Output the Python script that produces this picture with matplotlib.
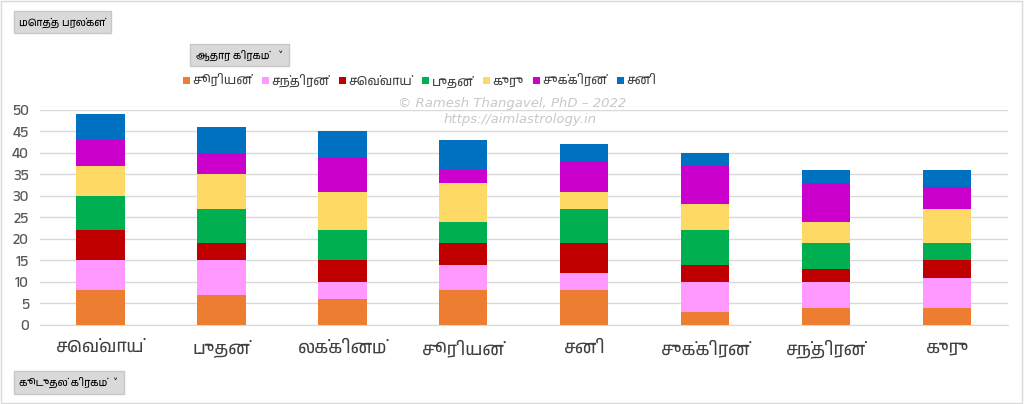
import matplotlib
matplotlib.use('Agg')
import matplotlib.pyplot as plt
from matplotlib.font_manager import fontManager
from matplotlib.ft2font import FT2Font
from matplotlib.patches import Rectangle
import numpy as np

# தமிழ் எழுத்துருக்களைத் தேடுதல்
found = []
for f in fontManager.ttflist:
    try:
        if 0x0BA4 in FT2Font(f.fname).get_charmap():
            found.append((f.name, f.fname))
    except Exception:
        pass
names = sorted(set(n for n, _ in found))
def rank(n):
    s = n.lower()
    if 'tamil' in s: return 0
    if 'lohit' in s: return 1
    if 'mono' in s: return 9
    if 'serif' in s and 'sans' not in s: return 5
    return 3
names.sort(key=rank)
tamil = names[0] if names else None
fams = [tamil, 'DejaVu Sans'] if tamil else ['DejaVu Sans']
plt.rcParams['font.family'] = fams

# தரவு
categories = ['செவ்வாய்', 'புதன்', 'லக்கினம்', 'சூரியன்', 'சனி', 'சுக்கிரன்', 'சந்திரன்', 'குரு']
series_names = ['சூரியன்', 'சந்திரன்', 'செவ்வாய்', 'புதன்', 'குரு', 'சுக்கிரன்', 'சனி']
surya = [8, 7, 6, 8, 8, 3, 4, 4]
chandra = [7, 8, 4, 6, 4, 7, 6, 7]
sevvai = [7, 4, 5, 5, 7, 4, 3, 4]
budhan = [8, 8, 7, 5, 8, 8, 6, 4]
guru = [7, 8, 9, 9, 4, 6, 5, 8]
sukran = [6, 5, 8, 3, 7, 9, 9, 5]
sani = [6, 6, 6, 7, 4, 3, 3, 4]
colors = ['#ED7D31', '#FF99FF', '#C00000', '#00B050', '#FFD966', '#CC00CC', '#0070C0']

fig = plt.figure(figsize=(10.24, 4.04), dpi=100)
ax = fig.add_axes([0.039, 0.196, 0.945, 0.532])

x = np.arange(len(categories))
bottom = np.zeros(len(categories))
handles = []
for name, vals, c in zip(series_names, [surya, chandra, sevvai, budhan, guru, sukran, sani], colors):
    b = ax.bar(x, vals, 0.4, bottom=bottom, color=c, label=name, zorder=3)
    handles.append(b)
    bottom += np.array(vals)

ax.set_xlim(-0.5, 7.5)
ax.set_ylim(0, 50)
ax.set_yticks(range(0, 51, 5))
ax.yaxis.grid(True, color='#d9d9d9', linewidth=1, zorder=0)
ax.set_xticks(x)
ax.set_xticklabels(categories, fontsize=12.5, color='#404040')
ax.tick_params(axis='y', labelsize=11, colors='#595959', length=0, pad=8)
ax.tick_params(axis='x', length=0, pad=11)
for s in ['top', 'right', 'left']:
    ax.spines[s].set_visible(False)
ax.spines['bottom'].set_color('#d9d9d9')

fig.legend(handles, series_names, loc='center', bbox_to_anchor=(0.41, 0.80), ncol=7,
           frameon=False, fontsize=9, handlelength=0.55, handleheight=0.55,
           handletextpad=0.2, columnspacing=0.8, labelcolor='#404040')

fig.text(0.5, 0.745, '© Ramesh Thangavel, PhD – 2022', ha='center', va='center',
         fontsize=9.5, style='italic', color='#c8c8c8', family='DejaVu Sans')
fig.text(0.508, 0.705, 'https://aimlastrology.in', ha='center', va='center',
         fontsize=9.5, style='italic', color='#c8c8c8', family='DejaVu Sans')

btn = dict(boxstyle='square,pad=0.55', facecolor='#d9d9d9', edgecolor='#c8c8c8')
fig.text(0.019, 0.945, 'மொத்த பரல்கள்', fontsize=7.5, va='center', bbox=btn)
fig.text(0.191, 0.864, 'ஆதார கிரகம்   ˅', fontsize=7.5, va='center', bbox=btn)
fig.text(0.019, 0.054, 'கூடுதல் கிரகம்  ˅', fontsize=7.5, va='center', bbox=btn)

fig.patches.append(Rectangle((0.001, 0.002), 0.997, 0.995, transform=fig.transFigure,
                             fill=False, edgecolor='#d9d9d9', linewidth=1))

fig.savefig('out.png', dpi=100)
